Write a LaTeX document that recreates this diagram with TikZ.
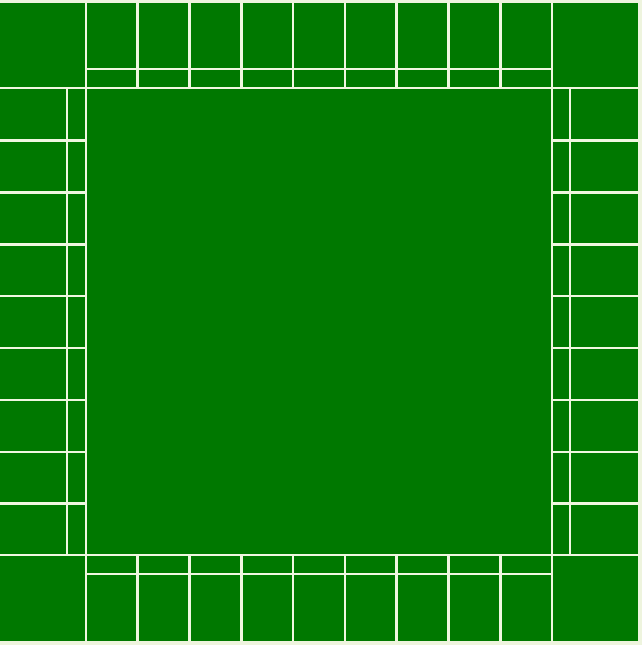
\documentclass[tikz,border=0pt]{standalone}
\definecolor{boardgreen}{RGB}{0,120,0}
\definecolor{boardline}{RGB}{240,247,224}
\definecolor{boardback}{RGB}{238,244,222}
\tikzset{
  grid line/.style={draw=boardline, line width=2.6pt},
}
\begin{document}
\begin{tikzpicture}[x=1pt, y=-1pt]
  \fill[boardback] (0,0) rectangle (642,645);
  \useasboundingbox (0,0) rectangle (642,645);
  \fill[boardgreen] (0,3) rectangle (638,641);
  % corners and main dividers
  \draw[grid line] (0,88) -- (638,88);
  \draw[grid line] (0,555) -- (638,555);
  \draw[grid line] (86,3) -- (86,641);
  \draw[grid line] (552,3) -- (552,641);
  % colour strips
  \draw[grid line] (86,69) -- (552,69);
  \draw[grid line] (86,574) -- (552,574);
  \draw[grid line] (67,88) -- (67,555);
  \draw[grid line] (570,88) -- (570,555);
  % cells on each side
  \foreach \k in {1,...,8} {
    \draw[grid line] ({86+\k*51.78},3) -- ({86+\k*51.78},88);
    \draw[grid line] ({86+\k*51.78},555) -- ({86+\k*51.78},641);
    \draw[grid line] (0,{88.5+\k*51.9}) -- (86,{88.5+\k*51.9});
    \draw[grid line] (552,{88.5+\k*51.9}) -- (638,{88.5+\k*51.9});
  }
\end{tikzpicture}
\end{document}
